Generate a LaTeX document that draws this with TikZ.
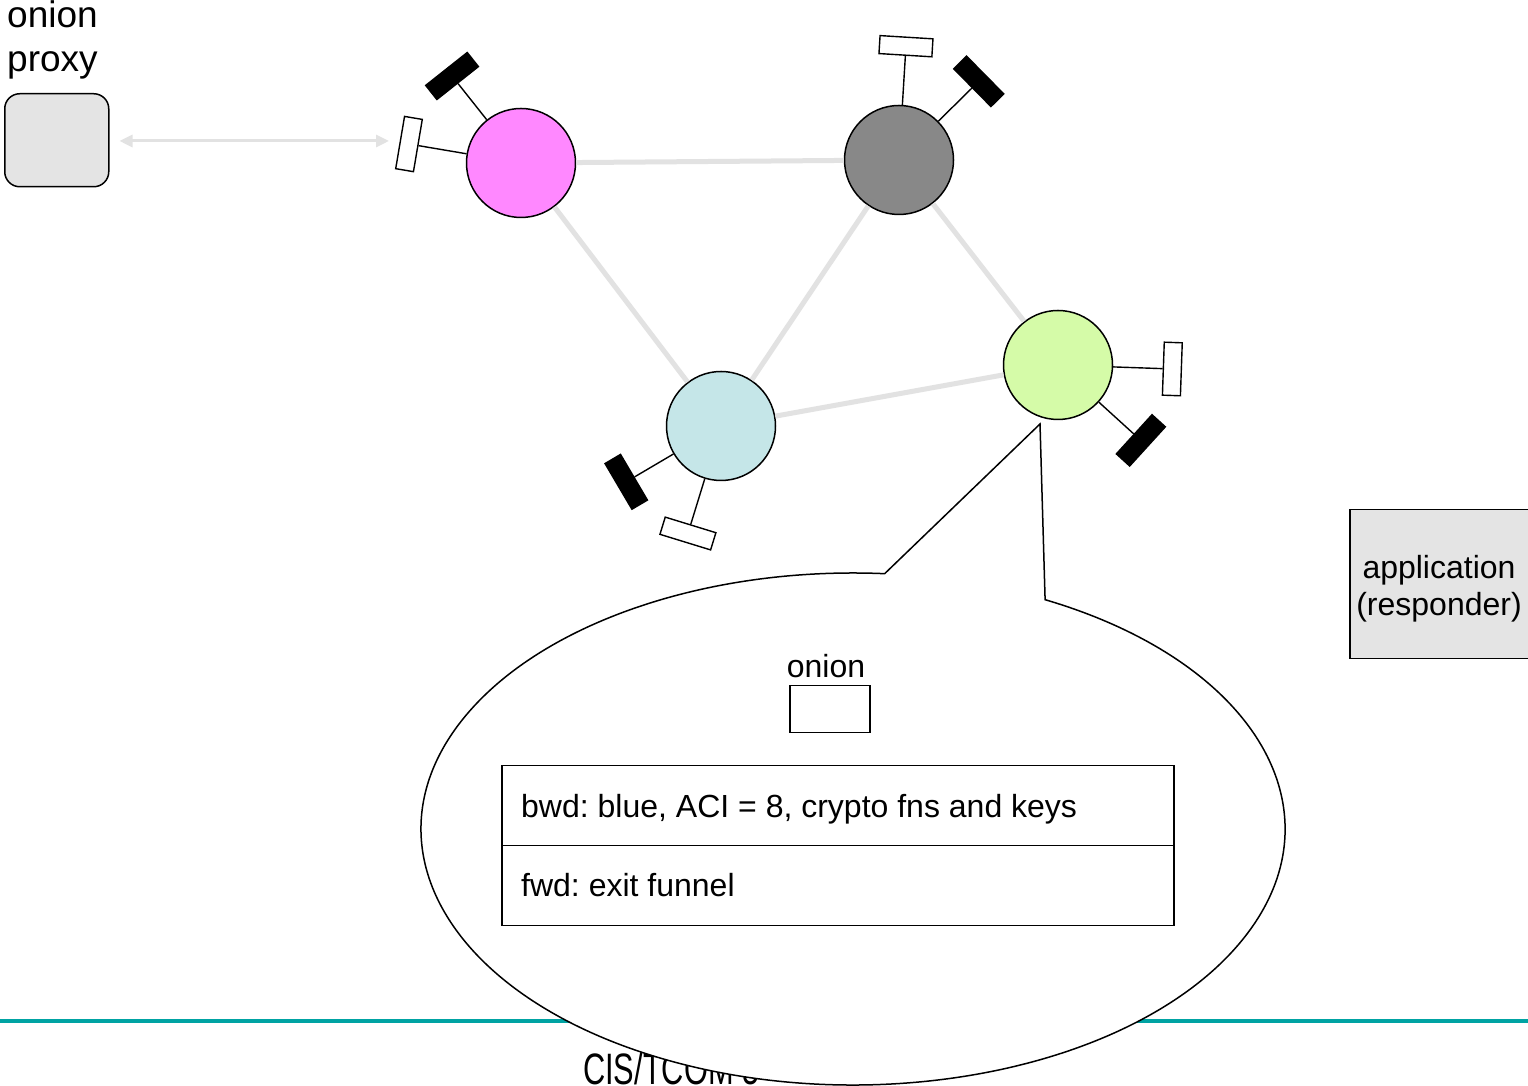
\documentclass[tikz,border=0pt]{standalone}
\usepackage{fontspec}
\setmainfont{Liberation Sans}
\usetikzlibrary{calc,arrows.meta}
\definecolor{pinkrelay}{HTML}{FF88FF}
\definecolor{grayrelay}{HTML}{888888}
\definecolor{cyanrelay}{HTML}{C5E6E8}
\definecolor{greenrelay}{HTML}{D5FBA8}
\definecolor{boxgray}{HTML}{E4E4E4}
\definecolor{linkgray}{HTML}{E2E2E2}
\definecolor{tealline}{HTML}{00A3A3}
\tikzset{
  relay/.style={circle, draw=black, line width=1.5pt, minimum size=109pt, inner sep=0pt},
  keybase/.style={draw=black, line width=1.4pt, minimum width=18pt, minimum height=53pt, inner sep=0pt},
  whitekey/.style={keybase, fill=white},
  blackkey/.style={keybase, fill=black},
  stem/.style={line width=1.4pt},
  link/.style={line width=5pt, draw=linkgray},
  bigtext/.style={font=\fontsize{32}{37}\selectfont, inner sep=0pt},
  graybox/.style={draw=black, fill=boxgray, line width=1.5pt},
}
\frenchspacing
\begin{document}
\frenchspacing
\begin{tikzpicture}[x=1pt,y=1pt]
\useasboundingbox (0,0) rectangle (1528,1086);
\fill[white] (0,0) rectangle (1528,1086);

% footer line and text (partly covered by callout)
\draw[tealline, line width=4pt] (0,65) -- (1528,65);
\node[font=\fontsize{44}{44}\selectfont, inner sep=0pt, anchor=base west, xscale=0.7] (footer) at (583,1) {CIS/TCOM 5};

% onion proxy
\node[graybox, rounded corners=15pt, minimum width=104pt, minimum height=93pt, anchor=north west] (op) at (4,993) {};
\node[font=\fontsize{37}{44}\selectfont, inner sep=0pt, anchor=base west, align=left] (oplabel) at (7,1014) {onion\\proxy};

% relays
\node[relay, fill=pinkrelay] (P) at (521,923) {};
\node[relay, fill=grayrelay] (G) at (899,926) {};
\node[relay, fill=cyanrelay] (C) at (721,660) {};
\node[relay, fill=greenrelay] (N) at (1058,721) {};

% links
\draw[link] (P) -- (G);
\draw[link] (P) -- (C);
\draw[link] (G) -- (C);
\draw[link] (G) -- (N);
\draw[link] (C) -- (N);

% keys
\node[whitekey, rotate=170.4] (Pw) at ($(P)+(170.4:113.6)$) {};
\node[blackkey, rotate=128.4] (Pb) at ($(P)+(128.4:111)$) {};
\node[whitekey, rotate=86.5] (Gw) at ($(G)+(86.5:114)$) {};
\node[blackkey, rotate=44.6] (Gb) at ($(G)+(44.6:112)$) {};
\node[blackkey, rotate=210.5] (Cb) at ($(C)+(210.5:110)$) {};
\node[whitekey, rotate=252.9] (Cw) at ($(C)+(252.9:112.5)$) {};
\node[whitekey, rotate=-2] (Nw) at ($(N)+(-2:114.4)$) {};
\node[blackkey, rotate=-42.3] (Nb) at ($(N)+(-42.3:112)$) {};
\foreach \r/\k in {P/Pw,P/Pb,G/Gw,G/Gb,C/Cb,C/Cw,N/Nw,N/Nb}{
  \draw[stem] (\r) -- (\k);
}

% arrow from proxy to first relay
\coordinate (arrowR) at (389,945);
\draw[linkgray, line width=3pt, {Triangle[length=13pt,width=12pt]}-{Triangle[length=13pt,width=12pt]}] ([xshift=10pt]op.east |- arrowR) -- (arrowR);

% application responder
\node[graybox, minimum width=182pt, minimum height=149pt, anchor=north west] (app) at (1349,577) {};
\node[bigtext, align=center] (applabel) at (1439,497) {application\\(responder)};

% callout
\coordinate (tip) at (1040,662);
\draw[line width=1.5pt, fill=white] (1045.1,486.3) arc[start angle=63.6, end angle=-274.2, x radius=432pt, y radius=256pt] -- (tip) -- cycle;

% onion
\node[bigtext, anchor=base] (onionlabel) at (826,408) {onion};
\node[draw=black, line width=1.5pt, minimum width=80pt, minimum height=47pt, inner sep=0pt, anchor=north west] (onionbox) at (789,401) {};

% table
\node[draw=black, line width=1.5pt, minimum width=672pt, minimum height=80pt, inner sep=0pt, anchor=north west] (bwdrow) at (501,321) {};
\node[draw=black, line width=1.5pt, minimum width=672pt, minimum height=80pt, inner sep=0pt, anchor=north west] (fwdrow) at (501,241) {};
\node[bigtext, anchor=base west] (bwdtext) at (521,268) {bwd: blue, ACI = 8, crypto fns and keys};
\node[bigtext, anchor=base west] (fwdtext) at (521,189) {fwd: exit funnel};
\end{tikzpicture}
\end{document}
